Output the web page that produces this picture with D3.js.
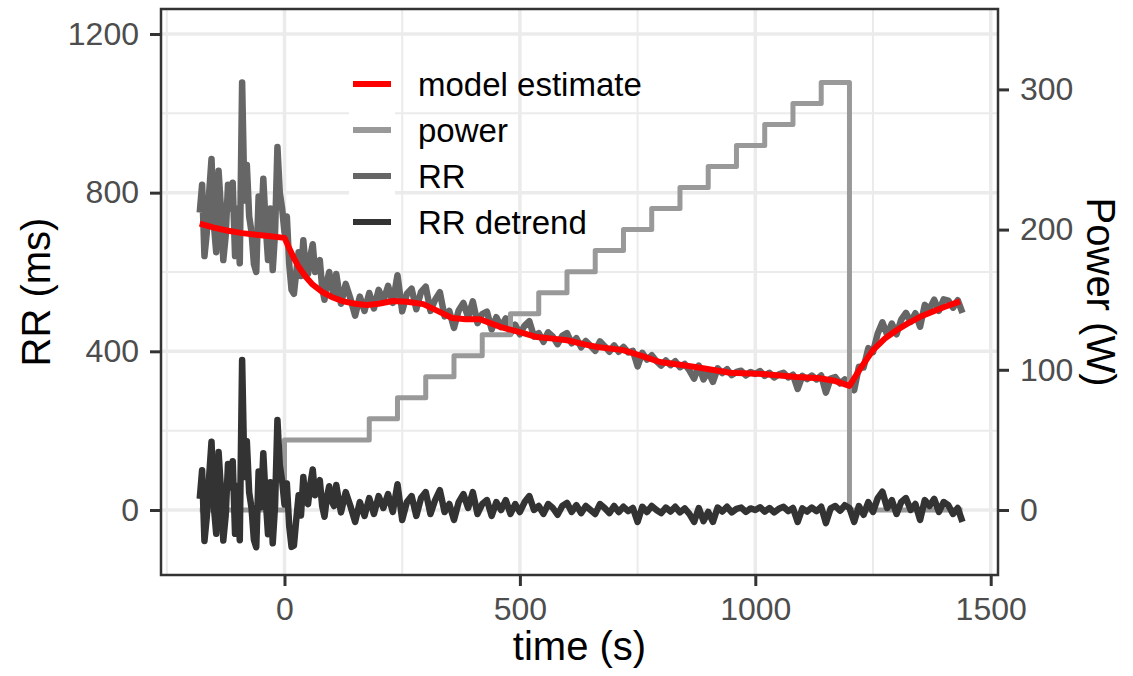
<!DOCTYPE html>
<html>
<head>
<meta charset="utf-8">
<script src="https://cdn.jsdelivr.net/npm/d3@7"></script>
<style>
body { margin: 0; background: #fff; }
svg { display: block; font-family: "Liberation Sans", Arial, Helvetica, sans-serif; }
</style>
</head>
<body>
<svg width="1133" height="676"></svg>
<script>
// RR samples (s, ms)
var rrTime = [-180, -175, -170, -165, -160, -155, -150, -145, -140, -135, -130, -125, -120, -115, -110, -105, -100, -95, -90, -85,
    -80, -75, -70, -65, -60, -55, -50, -45, -40, -35, -30, -25, -20, -15, -10, -5, 0, 5, 10, 15,
    20, 25, 30, 35, 40, 45, 50, 55, 60, 65, 70, 75, 80, 85, 90, 95, 100, 105, 110, 115, 120,
    130, 140, 150, 160, 170, 180, 190, 200, 210, 220, 230, 240, 250, 260, 270, 280, 290, 300, 310, 320,
    330, 340, 350, 360, 370, 380, 390, 400, 410, 420, 430, 440, 450, 460, 470, 480, 490, 500, 510, 520,
    530, 540, 550, 560, 570, 580, 590, 600, 610, 620, 630, 640, 650, 660, 670, 680, 690, 700, 710, 720,
    730, 740, 750, 760, 770, 780, 790, 800, 810, 820, 830, 840, 850, 860, 870, 880, 890, 900, 910, 920,
    930, 940, 950, 960, 970, 980, 990, 1000, 1010, 1020, 1030, 1040, 1050, 1060, 1070, 1080, 1090, 1100, 1110, 1120,
    1130, 1140, 1150, 1160, 1170, 1180, 1190, 1200, 1210, 1220, 1230, 1240, 1250, 1260, 1270, 1280, 1290, 1300, 1310, 1320,
    1330, 1340, 1350, 1360, 1370, 1380, 1390, 1400, 1410, 1420, 1430, 1440];

var rrValue = [750, 820, 640, 700, 800, 885, 720, 650, 855, 760, 630, 690, 820, 760, 825, 640, 760, 622, 1078, 780,
    870, 740, 700, 620, 600, 790, 700, 835, 720, 630, 760, 605, 700, 915, 800, 760, 700, 740, 620, 555,
    545, 600, 650, 590, 680, 610, 595, 640, 670, 600, 620, 630, 560, 530, 575, 600, 560, 545, 595, 555, 520,
    570, 533, 490, 538, 502, 547, 508, 555, 527, 565, 522, 592, 501, 545, 558, 506, 550, 563, 502, 530,
    549, 488, 502, 459, 503, 522, 486, 526, 471, 494, 500, 455, 486, 461, 483, 445, 467, 443, 465, 476,
    437, 446, 424, 448, 437, 418, 439, 446, 420, 433, 410, 426, 414, 401, 425, 413, 399, 415, 399, 411,
    397, 401, 362, 396, 379, 390, 375, 364, 377, 365, 375, 360, 368, 352, 331, 364, 329, 350, 323, 357,
    345, 355, 340, 348, 351, 339, 348, 343, 350, 338, 346, 334, 342, 346, 334, 341, 305, 338, 330, 339,
    329, 339, 296, 331, 335, 319, 329, 318, 302, 361, 359, 408, 398, 445, 473, 442, 470, 443, 480, 497,
    474, 496, 462, 517, 507, 530, 502, 531, 528, 510, 529, 497];

var rrDetrend = [28, 100, -78, -17, 85, 172, 8, -60, 146, 52, -77, -15, 116, 57, 123, -60, 61, -76, 378, 83,
    173, 44, 5, -75, -94, 97, 7, 143, 29, -61, 70, -84, 12, 227, 113, 74, 14, 67, -40, -93,
    -90, -24, 37, -14, 83, 22, 15, 66, 102, 37, 61, 75, 10, -17, 32, 60, 23, 10, 63, 26, -6,
    45, 10, -30, 20, -15, 30, -10, 35, 5, 40, -5, 65, -25, 20, 35, -15, 30, 45, -10, 25,
    50, -5, 15, -25, 20, 40, 5, 45, -10, 15, 25, -15, 20, 0, 25, -10, 15, -5, 20, 35,
    0, 10, -10, 15, 5, -12, 10, 18, -5, 12, -8, 10, 0, -10, 15, 5, -8, 10, -5, 8,
    -3, 5, -30, 8, -5, 10, 0, -8, 6, -4, 8, -6, 4, -10, -30, 5, -28, -5, -30, 6,
    -4, 8, -6, 3, 6, -5, 4, 0, 7, -4, 5, -6, 3, 8, -3, 5, -30, 4, -4, 6,
    -3, 8, -33, 4, 10, -2, 12, 5, -30, 10, -12, 20, -5, 30, 46, 5, 25, -10, 20, 30,
    0, 15, -25, 25, 10, 28, -5, 20, 12, -10, 5, -30];

// model estimate
var modelTime = [-180, -150, -120, -90, -60, -30, 0, 10, 20, 30, 45, 60, 80, 100, 125, 150, 175, 200, 230, 260,
    295, 325, 356, 385, 415, 460, 507, 536, 570, 600, 635, 664, 719, 760, 797, 840, 876, 946, 1016, 1088,
    1137, 1170, 1200, 1225, 1250, 1275, 1300, 1325, 1350, 1375, 1400, 1435];
var modelValue = [722, 712, 704, 698, 694, 690, 686, 660, 635, 613, 588, 568, 550, 537, 526, 520, 517, 520, 527, 525,
    519, 502, 484, 481, 481, 461, 446, 436, 432, 428, 418, 411, 403, 388, 373, 366, 360, 346, 343, 335,
    332, 325, 313, 360, 403, 432, 453, 471, 487, 499, 511, 526];

// power protocol (step after)
var powerTime = [-180, 0, 180, 240, 300, 360, 420, 480, 540, 600, 660, 720, 780, 840, 900, 960, 1020, 1080, 1140, 1200, 1440];
var powerWatts = [0, 50, 65, 80, 95, 110, 125, 140, 155, 170, 185, 200, 215, 230, 245, 260, 275, 290, 305, 0, 0];

var seriesNames = ["model estimate", "power", "RR", "RR detrend"];
var seriesColors = ["#ff0000", "#999999", "#666666", "#333333"];
var xTicks = [0, 500, 1000, 1500];
var xMinor = [-250, 250, 750, 1250];
var yTicks = [0, 400, 800, 1200];
var yMinor = [200, 600, 1000];
var powerTicks = [0, 100, 200, 300];

var svg = d3.select("svg");
var panel = { left: 161, right: 998, top: 9, bottom: 575 };

var xScale = d3.scaleLinear().domain([-262.3, 1515.5]).range([panel.left, panel.right]);
var yScale = d3.scaleLinear().domain([-163.9, 1263]).range([panel.bottom, panel.top]);

// power is drawn on the RR scale, max power matched to max RR
var k = d3.max(rrValue) / d3.max(powerWatts);
var yPower = yScale.copy().domain(yScale.domain().map(function(v) { return v / k; }));

// grid
var grid = svg.append("g");
grid.selectAll(".xminor").data(xMinor).enter().append("line")
    .attr("x1", function(d) { return xScale(d); }).attr("x2", function(d) { return xScale(d); })
    .attr("y1", panel.top).attr("y2", panel.bottom)
    .attr("stroke", "#ebebeb").attr("stroke-width", 2);
grid.selectAll(".yminor").data(yMinor).enter().append("line")
    .attr("y1", function(d) { return yScale(d); }).attr("y2", function(d) { return yScale(d); })
    .attr("x1", panel.left).attr("x2", panel.right)
    .attr("stroke", "#ebebeb").attr("stroke-width", 2);
grid.selectAll(".xmajor").data(xTicks).enter().append("line")
    .attr("x1", function(d) { return xScale(d); }).attr("x2", function(d) { return xScale(d); })
    .attr("y1", panel.top).attr("y2", panel.bottom)
    .attr("stroke", "#ebebeb").attr("stroke-width", 3.5);
grid.selectAll(".ymajor").data(yTicks).enter().append("line")
    .attr("y1", function(d) { return yScale(d); }).attr("y2", function(d) { return yScale(d); })
    .attr("x1", panel.left).attr("x2", panel.right)
    .attr("stroke", "#ebebeb").attr("stroke-width", 3.5);

// legend key backgrounds (ggplot draws them over the grid)
var legendX = 349, legendY = 61, keyH = 46;
svg.append("g").selectAll("rect").data(seriesNames).enter().append("rect")
    .attr("x", legendX).attr("y", function(d, i) { return legendY + i * keyH; })
    .attr("width", 46).attr("height", keyH)
    .attr("fill", "#fff");

var rrPoints = rrTime.map(function(t, i) { return { t: t, v: rrValue[i], d: rrDetrend[i] }; });
var modelPoints = modelTime.map(function(t, i) { return { t: t, v: modelValue[i] }; });
var powerPoints = powerTime.map(function(t, i) { return { t: t, w: powerWatts[i] }; });

var lines = svg.append("g").attr("fill", "none").attr("stroke-linejoin", "round").attr("stroke-linecap", "butt");

lines.append("path")
    .attr("d", d3.line().x(function(d) { return xScale(d.t); }).y(function(d) { return yScale(d.v); })(rrPoints))
    .attr("stroke", seriesColors[2]).attr("stroke-width", 6.5);

lines.append("path")
    .attr("d", d3.line().curve(d3.curveStepAfter)
        .x(function(d) { return xScale(d.t); }).y(function(d) { return yPower(d.w); })(powerPoints))
    .attr("stroke", seriesColors[1]).attr("stroke-width", 5);

lines.append("path")
    .attr("d", d3.line().x(function(d) { return xScale(d.t); }).y(function(d) { return yScale(d.d); })(rrPoints))
    .attr("stroke", seriesColors[3]).attr("stroke-width", 6.5);

lines.append("path")
    .attr("d", d3.line().x(function(d) { return xScale(d.t); }).y(function(d) { return yScale(d.v); })(modelPoints))
    .attr("stroke", seriesColors[0]).attr("stroke-width", 6);

// panel border
svg.append("rect")
    .attr("x", panel.left).attr("y", panel.top)
    .attr("width", panel.right - panel.left).attr("height", panel.bottom - panel.top)
    .attr("fill", "none").attr("stroke", "#333").attr("stroke-width", 2.5);

function styleAxis(g) {
    g.select(".domain").remove();
    g.selectAll(".tick line").attr("stroke", "#333").attr("stroke-width", 3);
    g.selectAll(".tick text").attr("fill", "#4d4d4d").attr("font-size", 32)
        .attr("font-family", "'Liberation Sans', Arial, Helvetica, sans-serif");
}

var fmt = d3.format("d");

svg.append("g")
    .attr("transform", "translate(" + panel.left + ",0)")
    .call(d3.axisLeft(yScale).tickValues(yTicks).tickFormat(fmt).tickSize(11).tickPadding(11))
    .call(styleAxis);

svg.append("g")
    .attr("transform", "translate(" + panel.right + ",0)")
    .call(d3.axisRight(yPower).tickValues(powerTicks).tickFormat(fmt).tickSize(11).tickPadding(11))
    .call(styleAxis);

svg.append("g")
    .attr("transform", "translate(0," + panel.bottom + ")")
    .call(d3.axisBottom(xScale).tickValues(xTicks).tickFormat(fmt).tickSize(11).tickPadding(11))
    .call(styleAxis);

// axis titles
var midY = (panel.top + panel.bottom) / 2;
svg.append("text")
    .attr("transform", "translate(" + (panel.left + panel.right) / 2 + ",660)")
    .attr("text-anchor", "middle").attr("font-size", 40).attr("fill", "#000")
    .text("time (s)");
svg.append("text")
    .attr("transform", "translate(50," + midY + ") rotate(-90)")
    .attr("text-anchor", "middle").attr("font-size", 40).attr("fill", "#000")
    .text("RR (ms)");
svg.append("text")
    .attr("transform", "translate(1087," + midY + ") rotate(90)")
    .attr("text-anchor", "middle").attr("font-size", 40).attr("fill", "#000")
    .text("Power (W)");

// legend
var legend = svg.append("g");
seriesNames.forEach(function(name, i) {
    var cy = legendY + i * keyH + keyH / 2;
    legend.append("line")
        .attr("x1", legendX + 4).attr("x2", legendX + 42)
        .attr("y1", cy).attr("y2", cy)
        .attr("stroke", seriesColors[i]).attr("stroke-width", 6);
    legend.append("text")
        .attr("x", 418).attr("y", cy).attr("dy", "0.35em")
        .attr("font-size", 33).attr("fill", "#000")
        .text(name);
});
</script>
</body>
</html>
